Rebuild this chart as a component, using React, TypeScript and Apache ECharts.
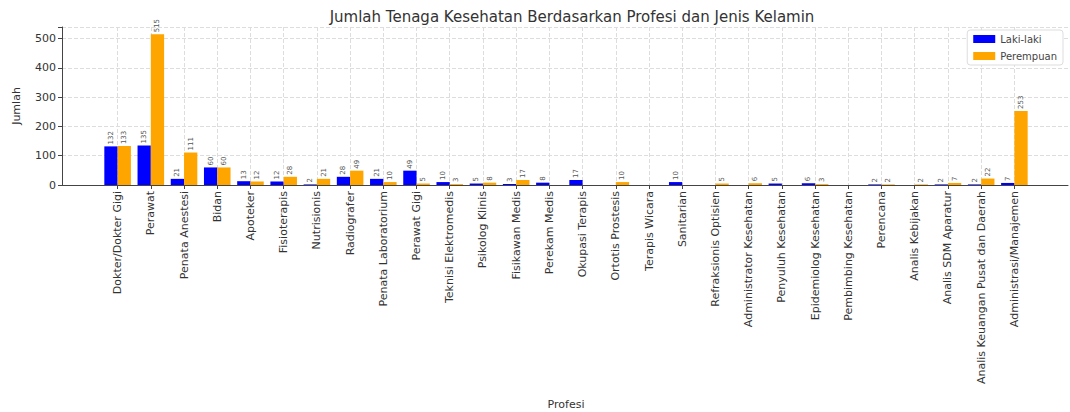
import React, { useEffect, useRef } from "react";
import * as echarts from "echarts";

const categories = [
  "Dokter/Dokter Gigi", "Perawat", "Penata Anestesi", "Bidan", "Apoteker", "Fisioterapis",
  "Nutrisionis", "Radiografer", "Penata Laboratorium", "Perawat Gigi", "Teknisi Elektromedis",
  "Psikolog Klinis", "Fisikawan Medis", "Perekam Medis", "Okupasi Terapis", "Ortotis Prostesis",
  "Terapis Wicara", "Sanitarian", "Refraksionis Optisien", "Administrator Kesehatan",
  "Penyuluh Kesehatan", "Epidemiolog Kesehatan", "Pembimbing Kesehatan", "Perencana",
  "Analis Kebijakan", "Analis SDM Aparatur", "Analis Keuangan Pusat dan Daerah",
  "Administrasi/Manajemen",
];

const lakiLaki = [132, 135, 21, 60, 13, 12, 2, 28, 21, 49, 10, 5, 3, 8, 17, 0, 0, 10, 0, 0, 5, 6, 0, 2, 0, 2, 2, 7];
const perempuan = [133, 515, 111, 60, 12, 28, 21, 49, 10, 5, 3, 8, 17, 0, 0, 10, 0, 0, 5, 6, 0, 3, 0, 2, 2, 7, 22, 253];

const yTicks = { min: 0, max: 540, interval: 100 };

const FONT = "DejaVu Sans";

export default function App() {
  const ref = useRef<HTMLDivElement>(null);
  useEffect(() => {
    document.body.style.margin = "0";
    const chart = echarts.init(ref.current!, null, { renderer: "svg" });
    const barLabel = {
      show: true,
      position: "top" as const,
      rotate: 90,
      align: "left" as const,
      verticalAlign: "middle" as const,
      distance: 2,
      fontSize: 7,
      fontFamily: FONT,
      color: "#555",
      formatter: (p: any) => (p.value > 0 ? String(p.value) : ""),
    };
    chart.setOption({
      animation: false,
      backgroundColor: "#fff",
      textStyle: { fontFamily: FONT },
      title: {
        text: "Jumlah Tenaga Kesehatan Berdasarkan Profesi dan Jenis Kelamin",
        left: 567,
        textAlign: "center",
        top: 4,
        textStyle: { fontSize: 15, fontWeight: "normal", color: "#333", fontFamily: FONT },
      },
      legend: {
        right: 7,
        top: 30,
        orient: "vertical",
        itemWidth: 22,
        itemHeight: 8,
        itemGap: 7,
        padding: [4, 6, 4, 6],
        borderColor: "#ddd",
        borderWidth: 1,
        borderRadius: 3,
        backgroundColor: "#fff",
        icon: "rect",
        textStyle: { fontSize: 10, color: "#444", fontFamily: FONT },
        data: ["Laki-laki", "Perempuan"],
      },
      grid: [
        { left: 62, right: 2, top: 27, bottom: 227, containLabel: false, outerBoundsMode: "none" },
        { left: 101, right: 39, top: 27, bottom: 227, containLabel: false, outerBoundsMode: "none" },
      ],
      xAxis: [
        {
          type: "value",
          gridIndex: 0,
          min: 0,
          max: 1,
          axisLine: { show: true, onZero: false, lineStyle: { color: "#444", width: 1 } },
          axisTick: { show: false },
          axisLabel: { show: false },
          splitLine: { show: false },
        },
        {
          type: "category",
          gridIndex: 1,
          data: categories,
          name: "Profesi",
          nameLocation: "middle",
          nameGap: 214,
          nameTextStyle: { fontSize: 11, color: "#333", fontFamily: FONT },
          axisLine: { show: false },
          axisTick: { show: true, alignWithLabel: true, length: 4, lineStyle: { color: "#444" } },
          axisLabel: { interval: 0, rotate: 90, fontSize: 11, color: "#333", margin: 6, fontFamily: FONT },
          splitLine: { show: true, alignWithLabel: true, interval: 0, lineStyle: { type: "dashed", color: "#ddd" } },
        },
      ] as any,
      yAxis: [
        {
          type: "value",
          gridIndex: 0,
          min: yTicks.min,
          max: yTicks.max,
          interval: yTicks.interval,
          name: "Jumlah",
          nameLocation: "middle",
          nameGap: 40,
          nameRotate: 90,
          nameTextStyle: { fontSize: 11, color: "#333", fontFamily: FONT },
          axisLine: { show: true, lineStyle: { color: "#444", width: 1 } },
          axisTick: { show: true, length: 4, lineStyle: { color: "#444" } },
          axisLabel: {
            fontSize: 11, color: "#333", margin: 6, fontFamily: FONT,
            formatter: (v: number) => (v % 100 === 0 && v <= 500 ? String(v) : ""),
          },
          splitLine: { show: true, lineStyle: { type: "dashed", color: "#ddd" } },
        },
        {
          type: "value",
          gridIndex: 1,
          min: yTicks.min,
          max: yTicks.max,
          interval: yTicks.interval,
          show: false,
          splitLine: { show: false },
        },
      ],
      series: [
        {
          name: "Laki-laki",
          type: "bar",
          xAxisIndex: 1,
          yAxisIndex: 1,
          data: lakiLaki,
          barGap: "0%",
          barCategoryGap: "20%",
          itemStyle: { color: "#0000ff" },
          label: barLabel,
        },
        {
          name: "Perempuan",
          type: "bar",
          xAxisIndex: 1,
          yAxisIndex: 1,
          data: perempuan,
          itemStyle: { color: "#ffa500" },
          label: barLabel,
        },
      ],
    } as any);
    return () => chart.dispose();
  }, []);
  return <div ref={ref} style={{ width: 1070, height: 412 }} />;
}
